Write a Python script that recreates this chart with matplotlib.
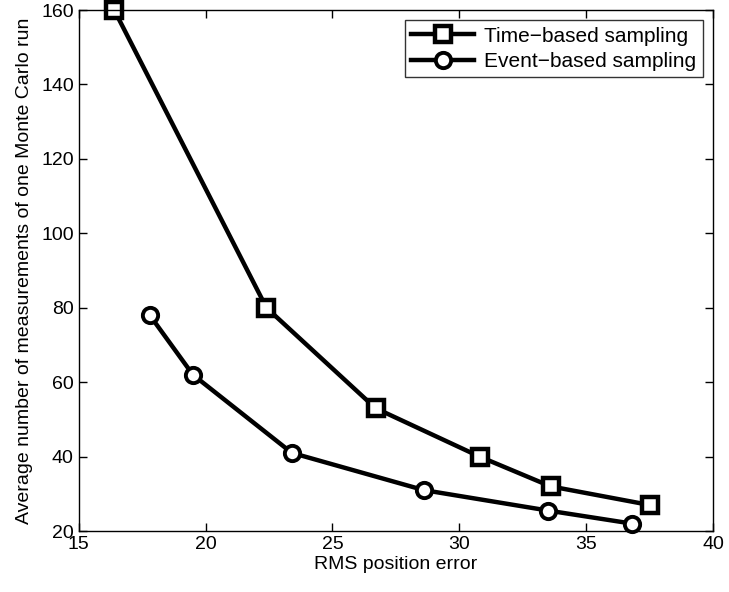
import matplotlib
matplotlib.use("Agg")
import matplotlib.pyplot as plt

plt.rcParams['font.family'] = ['Liberation Sans', 'DejaVu Sans']

time_x = [16.4, 22.4, 26.7, 30.8, 33.6, 37.5]
time_y = [160, 80, 53, 40, 32, 27]
event_x = [17.8, 19.5, 23.4, 28.6, 33.5, 36.8]
event_y = [78, 62, 41, 31, 25.5, 22]

xticks = [15, 20, 25, 30, 35, 40]
yticks = [20, 40, 60, 80, 100, 120, 140, 160]

fig = plt.figure(figsize=(7.29, 5.92), dpi=100)
ax = fig.add_axes([0.108, 0.103, 0.870, 0.880])

ax.plot(time_x, time_y, color='black', lw=3.2, marker='s', ms=11,
        mfc='white', mec='black', mew=3.2, label='Time\u2212based sampling', clip_on=False)
ax.plot(event_x, event_y, color='black', lw=3.2, marker='o', ms=11,
        mfc='white', mec='black', mew=2.8, label='Event\u2212based sampling', clip_on=False)

ax.set_xlim(15, 40)
ax.set_ylim(20, 160)
ax.set_xticks(xticks)
ax.set_yticks(yticks)
ax.tick_params(direction='in', top=True, right=True, length=6, width=1, labelsize=14, colors='black')
for s in ax.spines.values():
    s.set_linewidth(1)
ax.set_xlabel('RMS position error', fontsize=14, labelpad=2)
ax.set_ylabel('Average number of measurements of one Monte Carlo run', fontsize=14, labelpad=6)

leg = ax.legend(loc='upper right', fontsize=15, frameon=True, fancybox=False,
                edgecolor='black', handlelength=3, borderaxespad=0.5, borderpad=0.3,
                labelspacing=0.3, handletextpad=0.5)
leg.get_frame().set_linewidth(1)

fig.savefig('out.png', dpi=100)
